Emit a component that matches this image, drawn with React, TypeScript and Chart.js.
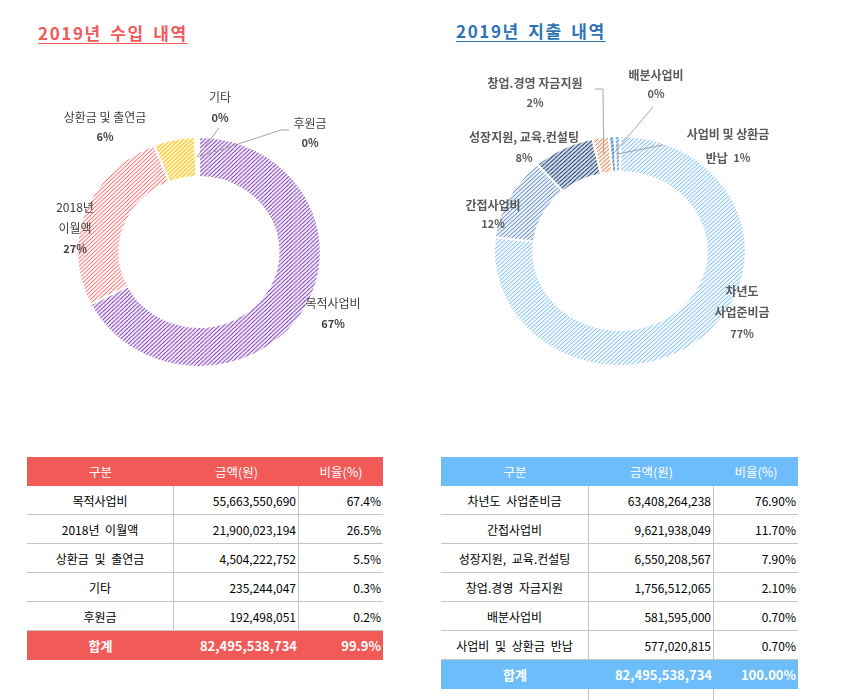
import React, { useEffect, useRef } from 'react';
import { Chart, registerables } from 'chart.js';
Chart.register(...registerables);

// ---------------- data ----------------
const incomeCategories = ['목적사업비', '2018년 이월액', '상환금 및 출연금', '기타', '후원금'];
const incomeAmounts = ['55,663,550,690', '21,900,023,194', '4,504,222,752', '235,244,047', '192,498,051'];
const incomeRatios = [67.4, 26.5, 5.5, 0.3, 0.2];
const incomeRatioText = ['67.4%', '26.5%', '5.5%', '0.3%', '0.2%'];
const incomeTotal = ['합계', '82,495,538,734', '99.9%'];
const incomeChartNames = [['목적사업비'], ['2018년', '이월액'], ['상환금 및 출연금'], ['기타'], ['후원금']];
const incomeChartPct = ['67%', '27%', '6%', '0%', '0%'];

const expenseCategories = ['차년도 사업준비금', '간접사업비', '성장지원, 교육.컨설팅', '창업.경영 자금지원', '배분사업비', '사업비 및 상환금 반납'];
const expenseAmounts = ['63,408,264,238', '9,621,938,049', '6,550,208,567', '1,756,512,065', '581,595,000', '577,020,815'];
const expenseRatios = [76.9, 11.7, 7.9, 2.1, 0.7, 0.7];
const expenseRatioText = ['76.90%', '11.70%', '7.90%', '2.10%', '0.70%', '0.70%'];
const expenseTotal = ['합계', '82,495,538,734', '100.00%'];
const expenseChartNames = [['차년도', '사업준비금'], ['간접사업비'], ['성장지원, 교육.컨설팅'], ['창업.경영 자금지원'], ['배분사업비'], ['사업비 및 상환금', '반납']];
const expenseChartPct = ['77%', '12%', '8%', '2%', '0%', '1%'];

const tableHead = ['구분', '금액(원)', '비율(%)'];

// ---------------- styles ----------------
const FONT = '"Noto Sans CJK KR", "Noto Sans", sans-serif';

const incomeHatch = [
  { bg: '#FAF5FD', fg: '#8040B8', lw: 1.05 },
  { bg: '#FFF2F2', fg: '#FF6262', lw: 1.0 },
  { bg: '#FFF7E0', fg: '#FFC000', lw: 1.1 },
  { bg: '#FFFFFF', fg: '#F0F0F0', lw: 1 },
  { bg: '#FFFFFF', fg: '#EBEBEB', lw: 1 },
];
const expenseHatch = [
  { bg: '#F2F8FE', fg: '#72BAF0', lw: 0.95 },
  { bg: '#EAF0F8', fg: '#5E8AC6', lw: 1.0 },
  { bg: '#DDE9F6', fg: '#1F3A66', lw: 1.1 },
  { bg: '#FCEEE4', fg: '#E3844E', lw: 1.0 },
  { bg: '#BCD6EF', fg: '#2E6FB0', lw: 1.2 },
  { bg: '#CFE1F2', fg: '#5B95CF', lw: 1.2 },
];

// label anchor offsets from the doughnut centre (page pixels)
const incomeLabelLayout: any[] = [
  { at: [134, 51], gap: 21 },
  { at: [-124, -45], gap: 21 },
  { at: [-94, -135], gap: 20 },
  { at: [21, -155], gap: 21, leader: [[20, -124]] },
  { at: [111, -129], gap: 20, leader: [[82, -122], [90, -122]] },
];
const expenseLabelLayout: any[] = [
  { at: [122, 40], gap: 21.5 },
  { at: [-127, -46], gap: 19 },
  { at: [-96, -114], gap: 21 },
  { at: [-85, -168], gap: 20, leader: [[-17, -162], [-25, -162]] },
  { at: [36, -176], gap: 19, leader: [[33, -144]] },
  { at: [108, -117], gap: 24, inline: true, leader: [[43, -106]] },
];

function makeHatch(ctx: CanvasRenderingContext2D, h: { bg: string; fg: string; lw: number }, size = 4) {
  const c = document.createElement('canvas');
  c.width = size;
  c.height = size;
  const g = c.getContext('2d')!;
  g.fillStyle = h.bg;
  g.fillRect(0, 0, size, size);
  g.strokeStyle = h.fg;
  g.lineWidth = h.lw;
  g.beginPath();
  for (const o of [-size, 0, size]) {
    g.moveTo(o, size);
    g.lineTo(o + size, 0);
  }
  g.stroke();
  return ctx.createPattern(c, 'repeat')!;
}

function stretchPlugin(sx: number) {
  return {
    id: 'stretch',
    beforeDatasetsDraw(chart: any) {
      const arc = chart.getDatasetMeta(0).data[0];
      const ctx = chart.ctx;
      ctx.save();
      ctx.translate(arc.x, arc.y);
      ctx.scale(sx, 1);
      ctx.translate(-arc.x, -arc.y);
    },
    afterDatasetsDraw(chart: any) {
      chart.ctx.restore();
    },
  };
}

function labelPlugin(sx: number, names: string[][], pcts: string[], layout: any[], st: any) {
  return {
    id: 'labels',
    afterDraw(chart: any) {
      const ctx: CanvasRenderingContext2D = chart.ctx;
      const meta = chart.getDatasetMeta(0);
      ctx.save();
      meta.data.forEach((arc: any, i: number) => {
        const L = layout[i];
        if (!L) return;
        const p = arc.getProps(['x', 'y', 'startAngle', 'endAngle', 'innerRadius', 'outerRadius'], true);
        const cx = p.x;
        const cy = p.y;
        if (L.leader) {
          const mid = (p.startAngle + p.endAngle) / 2;
          const r = (p.innerRadius + p.outerRadius) / 2;
          ctx.strokeStyle = '#A6A6A6';
          ctx.lineWidth = 1;
          ctx.beginPath();
          ctx.moveTo(cx + Math.cos(mid) * r * sx, cy + Math.sin(mid) * r);
          L.leader.forEach((pt: number[]) => ctx.lineTo(cx + pt[0], cy + pt[1]));
          ctx.stroke();
        }
        const x = cx + L.at[0];
        const y0 = cy + L.at[1];
        const lines = names[i];
        ctx.textBaseline = 'middle';
        lines.forEach((t, k) => {
          const y = y0 + k * L.gap;
          if (L.inline && k === lines.length - 1) {
            ctx.font = st.nameFont;
            const a = t + '  ';
            const w1 = ctx.measureText(a).width;
            ctx.font = st.pctFont;
            const w2 = ctx.measureText(pcts[i]).width;
            const sxp = x - (w1 + w2) / 2;
            ctx.textAlign = 'left';
            ctx.font = st.nameFont;
            ctx.fillStyle = st.nameColor;
            ctx.fillText(a, sxp, y);
            ctx.font = st.pctFont;
            ctx.fillStyle = st.pctColor;
            ctx.fillText(pcts[i], sxp + w1, y);
          } else {
            ctx.textAlign = 'center';
            ctx.font = st.nameFont;
            ctx.fillStyle = st.nameColor;
            ctx.fillText(t, x, y);
          }
        });
        if (!L.inline) {
          ctx.textAlign = 'center';
          ctx.font = st.pctFont;
          ctx.fillStyle = st.pctColor;
          ctx.fillText(pcts[i], x, y0 + lines.length * L.gap);
        }
      });
      ctx.restore();
    },
  };
}

function Donut(props: {
  left: number; top: number; w: number; h: number;
  cats: string[]; values: number[]; hatch: any[];
  radius: number; cutout: string; sx: number;
  names: string[][]; pcts: string[]; layout: any[]; labelStyle: any;
}) {
  const ref = useRef<HTMLCanvasElement>(null);
  useEffect(() => {
    const canvas = ref.current!;
    const ctx = canvas.getContext('2d')!;
    const patterns = props.hatch.map((h) => makeHatch(ctx, h));
    const chart = new Chart(canvas, {
      type: 'doughnut',
      data: {
        labels: props.cats,
        datasets: [
          {
            data: props.values,
            backgroundColor: patterns as any,
            borderColor: '#FFFFFF',
            borderWidth: 2,
          },
        ],
      },
      options: {
        responsive: false,
        animation: false,
        events: [],
        radius: props.radius,
        cutout: props.cutout,
        layout: { padding: 0 },
        plugins: { legend: { display: false }, tooltip: { enabled: false } },
      } as any,
      plugins: [stretchPlugin(props.sx), labelPlugin(props.sx, props.names, props.pcts, props.layout, props.labelStyle)],
    });
    return () => chart.destroy();
  }, []);
  return (
    <canvas
      ref={ref}
      width={props.w}
      height={props.h}
      style={{ position: 'absolute', left: props.left, top: props.top, width: props.w, height: props.h }}
    />
  );
}

function DataTable(props: {
  x: number; colW: number[]; color: string;
  cats: string[]; amounts: string[]; ratios: string[]; total: string[]; blank?: boolean;
}) {
  const top = 457;
  const headH = 29;
  const rowH = 29;
  const grid = '#C4C4C4';
  const W = props.colW.reduce((a, b) => a + b, 0);
  const cell = (w: number, align: string, extra: any = {}) => ({
    width: w,
    height: '100%',
    boxSizing: 'border-box' as const,
    display: 'flex',
    alignItems: 'center',
    justifyContent: align,
    paddingRight: align === 'flex-end' ? 2 : 0,
    whiteSpace: 'pre' as const,
    ...extra,
  });
  const rowStyle = (t: number, h: number, extra: any = {}) => ({
    position: 'absolute' as const,
    left: props.x,
    top: t,
    width: W,
    height: h,
    display: 'flex',
    boxSizing: 'border-box' as const,
    ...extra,
  });
  const bodyTop = top + headH;
  const totTop = bodyTop + props.cats.length * rowH;
  return (
    <>
      <div style={rowStyle(top, headH, { background: props.color, color: '#FFFFFF', fontSize: 12.5 })}>
        {tableHead.map((t, k) => (
          <div key={k} style={cell(props.colW[k], 'center')}>{t}</div>
        ))}
      </div>
      {props.cats.map((c, i) => (
        <div key={i} style={rowStyle(bodyTop + i * rowH, rowH, { borderBottom: `1px solid ${grid}`, fontSize: 12, color: '#000' })}>
          <div style={cell(props.colW[0], 'center', { borderRight: `1px solid ${grid}`, wordSpacing: '3px' })}>{c}</div>
          <div style={cell(props.colW[1], 'flex-end', { borderRight: `1px solid ${grid}` })}>{props.amounts[i]}</div>
          <div style={cell(props.colW[2], 'flex-end')}>{props.ratios[i]}</div>
        </div>
      ))}
      <div style={rowStyle(totTop, rowH, { background: props.color, color: '#FFFFFF', fontSize: 13, fontWeight: 'bold' })}>
        <div style={cell(props.colW[0], 'center')}>{props.total[0]}</div>
        <div style={cell(props.colW[1], 'flex-end')}>{props.total[1]}</div>
        <div style={cell(props.colW[2], 'flex-end')}>{props.total[2]}</div>
      </div>
      {props.blank && (
        <div style={rowStyle(totTop + rowH, rowH)}>
          <div style={cell(props.colW[0], 'center', { borderRight: `1px solid ${grid}` })} />
          <div style={cell(props.colW[1], 'flex-end', { borderRight: `1px solid ${grid}` })} />
          <div style={cell(props.colW[2], 'flex-end')} />
        </div>
      )}
    </>
  );
}

const titleStyle = (left: number, top: number, color: string) => ({
  position: 'absolute' as const,
  left,
  top,
  fontSize: 17,
  lineHeight: '20px',
  fontWeight: 'bold' as const,
  letterSpacing: '1.6px',
  wordSpacing: '3px',
  color,
  textDecoration: 'underline',
  textUnderlineOffset: '3px',
  whiteSpace: 'nowrap' as const,
});

export default function App() {
  return (
    <div style={{ position: 'absolute', left: 0, top: 0, width: 843, height: 700, overflow: 'hidden', background: '#FFFFFF', fontFamily: FONT }}>
      <div style={titleStyle(38, 23, '#F15A5A')}>2019년 수입 내역</div>
      <div style={titleStyle(456, 21, '#2E74B5')}>2019년 지출 내역</div>
      <Donut
        left={0} top={52} w={398} h={400}
        cats={incomeCategories} values={incomeRatios} hatch={incomeHatch}
        radius={115} cutout="65.2%" sx={1.06}
        names={incomeChartNames} pcts={incomeChartPct} layout={incomeLabelLayout}
        labelStyle={{ nameFont: `12px ${FONT}`, pctFont: `bold 11px ${FONT}`, nameColor: '#404040', pctColor: '#404040' }}
      />
      <Donut
        left={420} top={51} w={400} h={400}
        cats={expenseCategories} values={expenseRatios} hatch={expenseHatch}
        radius={115} cutout="68.7%" sx={1.096}
        names={expenseChartNames} pcts={expenseChartPct} layout={expenseLabelLayout}
        labelStyle={{ nameFont: `bold 12px ${FONT}`, pctFont: `bold 11px ${FONT}`, nameColor: '#595959', pctColor: '#595959' }}
      />
      <DataTable x={27} colW={[147, 125, 84]} color="#F25A57" cats={incomeCategories} amounts={incomeAmounts} ratios={incomeRatioText} total={incomeTotal} />
      <DataTable x={441} colW={[148, 125, 84]} color="#6CBDF9" cats={expenseCategories} amounts={expenseAmounts} ratios={expenseRatioText} total={expenseTotal} blank />
    </div>
  );
}
